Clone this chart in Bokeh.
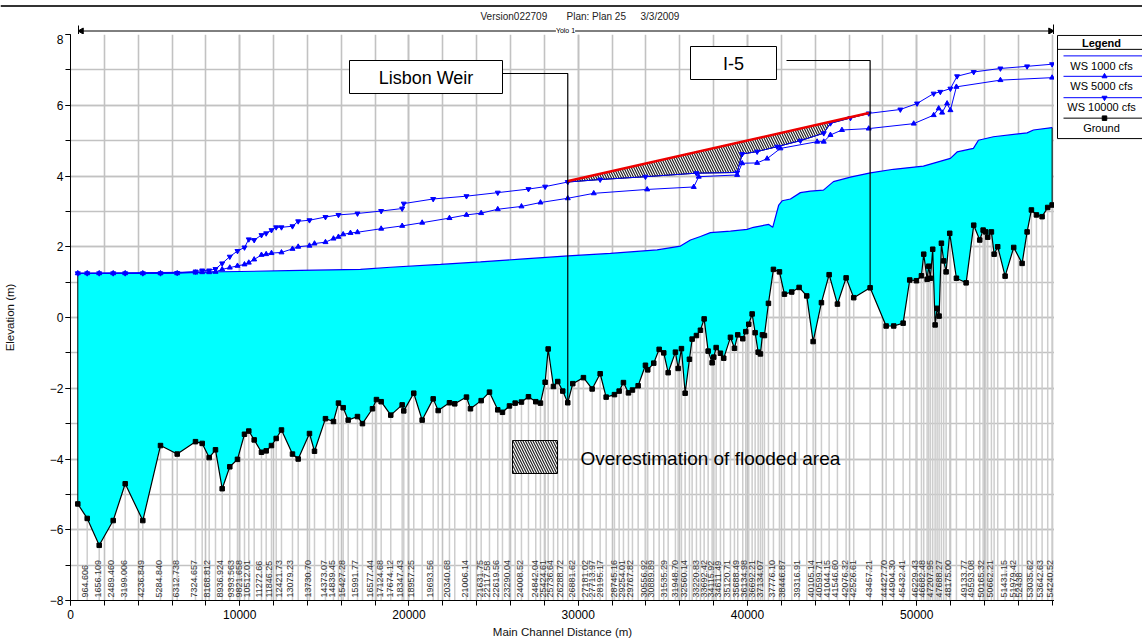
import numpy as np
from bokeh.plotting import figure
from bokeh.layouts import column, row
from bokeh.models import (Range1d, SingleIntervalTicker, Label, BoxAnnotation)
from bokeh.core.properties import value
from bokeh.embed import file_html
from bokeh.resources import INLINE

FONT = "Liberation Sans"

# ---------------- data (main channel distance in m, elevation in m) ----------------
ground_dist = [431, 987, 1696, 2523, 3232, 4272, 5317, 6304, 7385, 7781,
               8194, 8567, 8962, 9412, 9866, 10280, 10534, 10853, 11284, 11562,
               11875, 12153, 12466, 13116, 13453, 14120, 14416, 15065, 15538, 15833,
               16111, 16407, 16956, 17251, 17842, 18078, 18356, 18923, 19597, 19692,
               20282, 20778, 21429, 21724, 22391, 22704, 23396, 23632, 24264, 24755,
               25245, 25523, 25936, 26273, 26645, 27059, 27490, 27768, 28045, 28223,
               28536, 28790, 29085, 29381, 29677, 30308, 30822, 31295, 31649, 32140,
               32417, 32671, 32967, 33203, 33540, 33971, 34107, 34462, 34781, 35053,
               35313, 35743, 35903, 36098, 36316, 36570, 36730, 36984, 37220, 37439,
               37675, 37911, 38006, 38148, 38402, 38597, 38993, 39229, 39424, 39720,
               39897, 40074, 40275, 40452, 40630, 40765, 40883, 41002, 41238, 41533,
               41888, 42183, 42614, 43051, 43500, 43879, 44369, 44824, 45314, 45828,
               46277, 47246, 48192, 48641, 49196, 49586, 49982, 50278, 50413, 50614,
               50708, 50809, 50944, 51086, 51204, 51322, 51458, 51594, 51736, 51949,
               52345, 52918, 53367, 53722, 53923, 54077, 54195, 54413, 54573, 54785,
               55222, 55730, 56226, 56522, 56776, 57071, 57408, 57739, 57999]
ground_elev = [-5.27, -5.68, -6.44, -5.74, -4.70, -5.74, -3.62, -3.86, -3.51, -3.56,
               -3.96, -3.74, -4.84, -4.22, -4.01, -3.30, -3.21, -3.46, -3.81, -3.77,
               -3.62, -3.42, -3.18, -3.86, -4.00, -3.28, -3.78, -2.86, -2.94, -2.42,
               -2.55, -2.90, -2.80, -3.00, -2.58, -2.32, -2.38, -2.76, -2.47, -2.64,
               -2.14, -2.90, -2.30, -2.63, -2.41, -2.44, -2.25, -2.58, -2.35, -2.11,
               -2.61, -2.68, -2.50, -2.42, -2.39, -2.24, -2.38, -2.42, -1.83, -0.89,
               -1.95, -1.81, -2.08, -2.41, -1.87, -1.70, -2.02, -1.59, -2.25, -2.18,
               -2.08, -1.84, -2.13, -2.05, -1.93, -1.35, -1.48, -1.29, -0.90, -1.00,
               -1.56, -0.98, -1.44, -0.88, -2.14, -1.18, -0.61, -0.51, -0.36, -0.04,
               -0.95, -1.28, -1.12, -0.85, -1.01, -1.15, -0.56, -0.87, -0.49, -0.60,
               -0.40, -0.19, 0.10, -0.43, -0.98, -1.03, -0.49, -0.51, 0.40, 1.36,
               1.29, 0.66, 0.72, 0.85, 0.61, -0.68, 0.42, 1.21, 0.38, 1.12,
               0.56, 0.84, -0.24, -0.24, -0.16, 1.06, 1.04, 1.18, 1.79, 1.08,
               1.45, 1.11, 1.93, -0.21, 0.26, 0.04, 2.10, 1.60, 1.29, 2.38,
               1.11, 0.98, 2.61, 2.19, 2.47, 2.42, 2.27, 2.42, 1.79, 2.00,
               1.17, 1.98, 1.53, 2.42, 3.04, 2.90, 2.85, 3.11, 3.18]

ws1000_dist = [431, 5317, 10044, 13588, 17133, 18906, 21860, 24223, 26586, 29404,
               31903, 34662, 36039, 36630, 37220, 37811, 38993, 39980, 40352, 41256,
               41492, 41847, 42048, 42538, 43128, 43719, 44487, 45078, 46082, 47264,
               48623, 50395, 51990, 52386, 53349, 53645, 54531, 56522, 56894, 57999]
ws1000_elev = [1.25, 1.27, 1.30, 1.33, 1.36, 1.42, 1.50, 1.57, 1.65, 1.74,
               1.81, 1.91, 2.02, 2.19, 2.29, 2.40, 2.44, 2.49, 2.55, 2.63,
               2.55, 3.18, 3.30, 3.35, 3.53, 3.57, 3.60, 3.84, 3.97, 4.09,
               4.19, 4.28, 4.50, 4.68, 4.78, 5.01, 5.11, 5.22, 5.30, 5.37]

ws5000_dist = [431, 987, 1696, 2523, 3232, 4272, 5317, 6304, 7385, 7781,
               8194, 8567, 8962, 9412, 9866, 10280, 10534, 10853, 11284, 11562,
               11875, 12466, 13116, 13453, 14120, 14416, 15065, 15538, 15833, 16111,
               16542, 16956, 18356, 19597, 20778, 22391, 23396, 24264, 25245, 26645,
               27768, 29381, 30917, 34072, 36825, 37120, 39389, 39685, 40571, 41162,
               41947, 44115, 44506, 44902, 45582, 47164, 49822, 51003, 51298, 51499,
               51794, 51990, 52343, 54944, 57999]
ws5000_elev = [1.25, 1.25, 1.25, 1.25, 1.25, 1.25, 1.25, 1.25, 1.27, 1.28,
               1.28, 1.29, 1.36, 1.41, 1.46, 1.50, 1.55, 1.64, 1.77, 1.79,
               1.82, 1.84, 1.94, 2.00, 2.03, 2.09, 2.13, 2.23, 2.28, 2.35,
               2.39, 2.41, 2.51, 2.59, 2.68, 2.81, 2.90, 2.95, 3.06, 3.14,
               3.25, 3.37, 3.51, 3.62, 3.69, 3.98, 4.03, 4.36, 4.37, 4.49,
               4.78, 4.97, 4.97, 5.16, 5.30, 5.34, 5.48, 5.72, 5.91, 5.79,
               6.05, 5.86, 6.52, 6.71, 6.78]

ws10000_dist = [431, 987, 1696, 2523, 3232, 4272, 5317, 6304, 7385, 7781,
                8194, 8567, 8962, 9412, 9866, 10280, 10534, 10853, 11284, 11562,
                11875, 12153, 12466, 13116, 13453, 14120, 15065, 15833, 16956, 18356,
                19597, 19692, 21429, 23396, 25245, 27059, 28045, 29381, 31295, 33971,
                36984, 39389, 39685, 40571, 41753, 43128, 44506, 44902, 46082, 47164,
                49032, 50020, 51000, 51395, 51990, 52386, 53367, 54944, 56522, 57999]
ws10000_elev = [1.25, 1.25, 1.25, 1.25, 1.25, 1.25, 1.25, 1.26, 1.30, 1.33,
                1.33, 1.37, 1.53, 1.72, 1.88, 1.98, 2.21, 2.19, 2.33, 2.38,
                2.47, 2.55, 2.55, 2.58, 2.72, 2.75, 2.84, 2.90, 2.94, 3.01,
                3.08, 3.22, 3.35, 3.43, 3.53, 3.63, 3.70, 3.83, 3.90, 3.98,
                4.08, 4.10, 4.62, 4.69, 4.83, 5.00, 5.21, 5.49, 5.64, 5.77,
                5.88, 6.05, 6.33, 6.38, 6.47, 6.82, 6.94, 7.04, 7.10, 7.16]

# assumed (over-estimated) water surface drawn in red between Lisbon Weir and I-5
red_dist = [29347, 47168]
red_elev = [3.85, 5.78]

lisbon_weir_dist = 29381
i5_dist = 47246

station_labels = ["964.606", "1656.109", "2489.460", "3199.006", "4236.849", "5284.840",
                  "6312.738", "7324.657", "8168.812", "8936.924", "9393.563", "9821.658",
                  "10512.01", "11272.66", "11846.25", "12421.73", "13079.23", "13730.70",
                  "14373.07", "14839.45", "15427.28", "15991.77", "16577.44", "17124.68",
                  "17674.12", "18347.43", "18957.25", "19693.56", "20340.68", "21006.14",
                  "21631.75", "22117.58", "22619.56", "23290.04", "24008.52", "24842.04",
                  "25424.61", "25736.64", "26288.72", "26881.62", "27181.02", "27713.97",
                  "28195.17", "28745.16", "29254.01", "29767.82", "30556.92", "30889.89",
                  "31535.29", "31948.70", "32560.14", "33220.83", "33692.42", "34115.92",
                  "34611.49", "35120.71", "35688.49", "36134.98", "36692.21", "37134.07",
                  "37776.10", "38446.87", "39316.91", "40105.14", "40599.71", "41044.15",
                  "41546.60", "42076.32", "42526.61", "43457.21", "44427.70", "44904.30",
                  "45432.41", "46229.43", "46682.48", "47207.95", "47688.27", "48175.00",
                  "49133.77", "49593.08", "50165.32", "50662.21", "51431.15", "51979.42",
                  "52438", "53035.62", "53642.63", "54240.52"]
station_dist = [987, 1772, 2558, 3291, 4331, 5359, 6381, 7426, 8212, 8998,
                9648, 10085, 10575, 11302, 11857, 12448, 13134, 14179, 15107, 15597,
                16188, 16974, 17860, 18451, 19041, 19632, 20282, 21405, 22391, 23473,
                24359, 24755, 25304, 25936, 26722, 27573, 28045, 28494, 29085, 29776,
                30526, 30958, 31448, 32240, 32730, 33221, 34013, 34462, 35195, 35845,
                36411, 37102, 37557, 38006, 38402, 38934, 39465, 39920, 40411, 40901,
                41592, 42183, 43069, 43914, 44351, 44842, 45332, 45888, 46360, 47305,
                48227, 48682, 49272, 50060, 50455, 50945, 51477, 51990, 52918, 53368,
                53958, 54490, 55281, 55813, 56203, 56853, 57444, 58035]

legend_names = ["WS 1000 cfs", "WS 5000 cfs", "WS 10000 cfs", "Ground"]

# ---------------- layout ----------------
TOTAL_W, TOTAL_H = 1142, 643
HEAD_H = 34                      # header strip above the plot frame
ML, MB = 70, 43                  # left / bottom borders of the main figure
FW, FH = 984, 566                # plot frame
MAIN_W, MAIN_H = ML + FW, TOTAL_H - HEAD_H
LEG_W = TOTAL_W - MAIN_W
X_MAX = 58140.0
Y_MIN, Y_MAX = -8.0, 8.0
GRID = "#c2c2c2"
BLUE = "#0000ff"


def px(X, Y):
    """position on the picture (px) -> data coordinates of the main plot (annotations only)"""
    return ((X - ML) * X_MAX / FW,
            Y_MAX - (Y - HEAD_H) * (Y_MAX - Y_MIN) / FH)


def blank(w, h, x0, x1, y0, y1):
    f = figure(width=w, height=h, x_range=Range1d(x0, x1), y_range=Range1d(y0, y1),
               output_backend="svg", toolbar_location=None,
               x_axis_location=None, y_axis_location=None,
               min_border_left=0, min_border_right=0, min_border_top=0, min_border_bottom=0)
    f.outline_line_color = None
    f.grid.visible = False
    f.background_fill_color = "white"
    f.border_fill_color = "white"
    return f


# ======== main plot ========
p = figure(width=MAIN_W, height=MAIN_H, x_range=Range1d(0, X_MAX),
           y_range=Range1d(Y_MIN, Y_MAX),
           output_backend="svg", toolbar_location=None,
           min_border_left=ML, min_border_right=0, min_border_top=0, min_border_bottom=MB,
           x_axis_label="Main Channel Distance (m)", y_axis_label="Elevation (m)")
p.outline_line_color = None
p.background_fill_color = "white"
p.border_fill_color = "white"

xa = p.xaxis[0]
xa.ticker = SingleIntervalTicker(interval=10000, num_minor_ticks=5)
ya = p.yaxis[0]
ya.ticker = SingleIntervalTicker(interval=2, num_minor_ticks=2)
for ax in (xa, ya):
    ax.axis_line_color = "black"
    ax.major_tick_line_color = "black"
    ax.minor_tick_line_color = "black"
    ax.major_tick_in = 0
    ax.major_tick_out = 5
    ax.minor_tick_in = 0
    ax.minor_tick_out = 5
    ax.major_label_text_font = FONT
    ax.major_label_text_font_size = "12px"
    ax.major_label_text_color = "black"
    ax.axis_label_text_font = FONT
    ax.axis_label_text_font_size = "11.5px"
    ax.axis_label_text_font_style = "normal"
    ax.axis_label_text_color = "#111111"
xa.major_label_standoff = 4
ya.major_label_standoff = 2
xa.axis_label_standoff = 4
ya.axis_label_standoff = 31

for g in (p.xgrid[0], p.ygrid[0]):
    g.grid_line_color = GRID
    g.grid_line_width = 1.6
    g.minor_grid_line_color = GRID
    g.minor_grid_line_width = 1.6

# vertical lines at each cross-section, up to the ground
p.segment(x0=ground_dist, y0=[Y_MIN] * len(ground_dist), x1=ground_dist, y1=ground_elev,
          line_color="#cdcdcd", line_width=1.5)

# water (WS 1000 cfs) fill
p.patch(ws1000_dist + ground_dist[::-1], ws1000_elev + ground_elev[::-1],
        fill_color="#00ffff", line_color=None)
p.segment(x0=[ground_dist[0], ground_dist[-1]], y0=[ground_elev[0], ground_elev[-1]],
          x1=[ws1000_dist[0], ws1000_dist[-1]], y1=[ws1000_elev[0], ws1000_elev[-1]],
          line_color="black", line_width=1)

# hatched overestimation area: between red line and WS 10000 cfs
wd = np.array(ws10000_dist, dtype=float)
we = np.array(ws10000_elev, dtype=float)
m = (wd > red_dist[0]) & (wd < red_dist[1])
hx = [red_dist[0], red_dist[1], red_dist[1]] + list(wd[m][::-1]) + [red_dist[0]]
hy = ([red_elev[0], red_elev[1], float(np.interp(red_dist[1], wd, we))]
      + list(we[m][::-1]) + [float(np.interp(red_dist[0], wd, we))])
p.patch(hx, hy, fill_color="white", line_color="black", line_width=1,
        hatch_pattern="\\", hatch_color="#222222", hatch_scale=5, hatch_weight=1.2)

# water surfaces
p.line(ws1000_dist, ws1000_elev, line_color=BLUE, line_width=1.2)
p.line(ws5000_dist, ws5000_elev, line_color=BLUE, line_width=1)
p.scatter(ws5000_dist, ws5000_elev, marker="triangle", size=5, color=BLUE)
p.line(ws10000_dist, ws10000_elev, line_color=BLUE, line_width=1)
p.scatter(ws10000_dist, ws10000_elev, marker="inverted_triangle", size=5, color=BLUE)
p.line(red_dist, red_elev, line_color="#ee0000", line_width=2.5)

# ground
p.line(ground_dist, ground_elev, line_color="black", line_width=1.2)
p.scatter(ground_dist, ground_elev, marker="square", size=4.5, color="black")

# river-station labels
p.text(x=station_dist, y=[Y_MIN] * len(station_dist), text=station_labels,
       angle=np.pi / 2, text_font=value(FONT), text_font_size="9px",
       text_color="#333333", text_align="left", text_baseline="alphabetic",
       x_offset=-2.5, y_offset=-3)


def box(fig, l, t, r, b, **kw):
    fig.add_layout(BoxAnnotation(left=l, right=r, top=t, bottom=b, fill_color="white",
                                 fill_alpha=1, line_color="black", line_width=1,
                                 line_alpha=1, **kw))


def label(fig, x, y, text, size, align="center", angle=0.0, color="black", **kw):
    fig.add_layout(Label(x=x, y=y, text=text, text_font=FONT, text_font_size=size,
                         text_align=align, text_baseline="middle", angle=angle,
                         text_color=color, **kw))


g_lis = float(np.interp(lisbon_weir_dist, ground_dist, ground_elev))
g_i5 = float(np.interp(i5_dist, ground_dist, ground_elev))

# Lisbon Weir call-out
(l, t), (r, b) = px(349, 60), px(502, 93)
box(p, l, t, r, b)
label(p, *px(425.5, 77.5), "Lisbon Weir", "18px")
y_call = px(0, 73)[1]
p.line([r, lisbon_weir_dist, lisbon_weir_dist], [y_call, y_call, g_lis],
       line_color="black", line_width=1.2)

# I-5 call-out
(l, t), (r, b) = px(690, 46), px(776, 79)
box(p, l, t, r, b)
label(p, *px(733, 63), "I-5", "18px")
y_call = px(0, 60)[1]
p.line([px(786, 0)[0], i5_dist, i5_dist], [y_call, y_call, g_i5],
       line_color="black", line_width=1.2)

# hatch legend
(l, t), (r, b) = px(512, 440), px(557, 473)
box(p, l, t, r, b, hatch_pattern="\\", hatch_color="#222222", hatch_scale=5,
    hatch_weight=1.2)
label(p, *px(580, 458), "Overestimation of flooded area", "19px", align="left")

# ======== header strip (picture px coordinates, y downward) ========
hd = blank(TOTAL_W, HEAD_H, 0, TOTAL_W, HEAD_H, 0)
hd.line([0, TOTAL_W], [5.5, 5.5], line_color="#333333", line_width=2)
label(hd, 480, 16, "Version022709", "10px", align="left", color="#222222")
label(hd, 566, 16, "Plan: Plan 25", "10px", align="left", color="#222222")
label(hd, 640, 16, "3/3/2009", "10px", align="left", color="#222222")
x_left, x_right = ML + 8, ML + FW - 1
hd.line([x_left, x_right], [30.5, 30.5], line_color="black", line_width=1)
hd.segment(x0=[x_left, x_right], y0=[25, 24], x1=[x_left, x_right], y1=[34, 34],
           line_color="black", line_width=1)
hd.scatter([x_left + 3, x_right - 3], [30.5, 30.5], marker="triangle", size=6,
           angle=[np.pi / 2, -np.pi / 2], color="black")
label(hd, 565, 29.5, "Yolo 1", "7px", background_fill_color="white")

# ======== legend strip (picture px coordinates, y downward) ========
lg = blank(LEG_W, MAIN_H, MAIN_W, TOTAL_W, TOTAL_H, HEAD_H)
lg.quad(left=[1057], right=[TOTAL_W + 10], top=[35], bottom=[146],
        fill_color="white", line_color="black", line_width=1)
lg.line([1057, TOTAL_W + 10], [50, 50], line_color="black", line_width=1)
label(lg, 1101, 43, "Legend", "11px", text_font_style="bold")
entry_line_y = [57, 79, 102, 124]
entry_text_y = [68, 89, 112, 135]
entry_color = [BLUE, BLUE, BLUE, "black"]
lg.segment(x0=[1063] * 4, y0=entry_line_y, x1=[TOTAL_W + 10] * 4, y1=entry_line_y,
           line_color=entry_color, line_width=1)
lg.scatter([1104], [79], marker="triangle", size=5, color=BLUE)
lg.scatter([1104], [102], marker="inverted_triangle", size=5, color=BLUE)
lg.scatter([1104], [124], marker="square", size=4.5, color="black")
for name, ty in zip(legend_names, entry_text_y):
    label(lg, 1101, ty, name, "11px")

layout = column(hd, row(p, lg, spacing=0), spacing=0)
open("out.html", "w").write(file_html(layout, INLINE))
